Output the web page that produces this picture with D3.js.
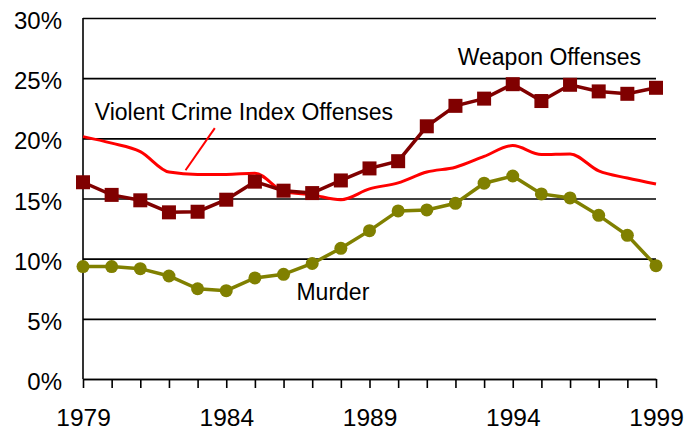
<!DOCTYPE html>
<html>
<head>
<meta charset="utf-8">
<script src="https://cdn.jsdelivr.net/npm/d3@7"></script>
<style>
  body { margin: 0; background: #fff; }
  .chart text { font-family: Arial, "Liberation Sans", sans-serif; fill: #000; }
</style>
</head>
<body>
<div class="chart"></div>
<script>
'use strict';
// data (percent)
var years = d3.range(1979, 2000);
var weapon = [16.35, 15.3, 14.85, 13.85, 13.9, 14.9, 16.4, 15.65, 15.45, 16.5, 17.5,
              18.1, 21.0, 22.7, 23.3, 24.5, 23.1, 24.45, 23.9, 23.7, 24.2];
var violent = [20.14, 19.6, 18.9, 17.2, 17.0, 17.0, 17.1, 15.6, 15.3, 14.9, 15.8,
               16.3, 17.2, 17.6, 18.5, 19.4, 18.65, 18.7, 17.3, 16.7, 16.2];
var murder = [9.34, 9.34, 9.17, 8.56, 7.5, 7.34, 8.4, 8.7, 9.6, 10.86, 12.33,
              13.97, 14.05, 14.6, 16.27, 16.87, 15.38, 15.05, 13.6, 11.94, 9.42];
var yTicks = [0, 5, 10, 15, 20, 25, 30];
var yearLabels = [1979, 1984, 1989, 1994, 1999];

var margin = {top: 18, bottom: 52, left: 83, right: 33};
var svg = {w: 689 - margin.left - margin.right, h: 431 - margin.top - margin.bottom};

var chart = d3.select(".chart")
  .append("svg")
    .attr("width", 689)
    .attr("height", 431)
  .append("g")
    .attr("transform", "translate(" + margin.left + "," + margin.top + ")");

var xScale = d3.scaleLinear().domain([1979, 1999]).range([0, svg.w]);
var yScale = d3.scaleLinear().domain([0, 30]).range([svg.h, 0]);

// y gridlines + labels
var yAxis = d3.axisLeft(yScale)
  .tickValues(yTicks)
  .tickSize(-svg.w)
  .tickPadding(21)
  .tickFormat(function(d) { return d + "%"; });

var gy = chart.append("g").call(yAxis);
gy.select(".domain").remove();
gy.selectAll(".tick line").attr("stroke", "#000").attr("stroke-width", 1.6);
gy.selectAll("text").attr("font-size", 24).attr("dy", "0.44em");

// y axis line
chart.append("line")
  .attr("x1", 0).attr("x2", 0)
  .attr("y1", 0).attr("y2", svg.h)
  .attr("stroke", "#000").attr("stroke-width", 1.6);

// x axis
var xAxis = d3.axisBottom(xScale)
  .tickValues(years)
  .tickSize(9)
  .tickSizeOuter(0)
  .tickPadding(21)
  .tickFormat(function(d) { return yearLabels.indexOf(d) >= 0 ? d : ""; });

var gx = chart.append("g")
  .attr("transform", "translate(0," + svg.h + ")")
  .call(xAxis);
gx.select(".domain").attr("stroke", "#000").attr("stroke-width", 1.6);
gx.selectAll(".tick line").attr("stroke", "#000").attr("stroke-width", 1.6);
gx.selectAll("text").attr("font-size", 24.5);

function series(vals) {
  return years.map(function(y, i) { return {year: y, v: vals[i]}; });
}

var line = d3.line()
  .x(function(d) { return xScale(d.year); })
  .y(function(d) { return yScale(d.v); });

// violent crime index (smooth, no markers)
chart.append("path")
  .datum(series(violent))
  .attr("fill", "none")
  .attr("stroke", "#ff0000")
  .attr("stroke-width", 3)
  .attr("d", line.curve(d3.curveMonotoneX));

line.curve(d3.curveLinear);

// murder
chart.append("path")
  .datum(series(murder))
  .attr("fill", "none")
  .attr("stroke", "#808000")
  .attr("stroke-width", 3.5)
  .attr("d", line);

chart.selectAll(".murder")
  .data(series(murder))
  .enter()
  .append("circle")
    .attr("class", "murder")
    .attr("cx", function(d) { return xScale(d.year); })
    .attr("cy", function(d) { return yScale(d.v); })
    .attr("r", 6.5)
    .attr("fill", "#808000");

// weapon offenses
chart.append("path")
  .datum(series(weapon))
  .attr("fill", "none")
  .attr("stroke", "#800000")
  .attr("stroke-width", 3.5)
  .attr("d", line);

chart.selectAll(".weapon")
  .data(series(weapon))
  .enter()
  .append("rect")
    .attr("class", "weapon")
    .attr("x", function(d) { return xScale(d.year) - 7; })
    .attr("y", function(d) { return yScale(d.v) - 7; })
    .attr("width", 14)
    .attr("height", 14)
    .attr("fill", "#800000");

// labels
var labels = [
  {text: "Weapon Offenses", year: 1992.08, v: 26.1},
  {text: "Violent Crime Index Offenses", year: 1979.41, v: 21.5},
  {text: "Murder", year: 1986.45, v: 6.57}
];
chart.selectAll(".lbl")
  .data(labels)
  .enter()
  .append("text")
    .attr("class", "lbl")
    .attr("x", function(d) { return xScale(d.year); })
    .attr("y", function(d) { return yScale(d.v); })
    .attr("font-size", 23)
    .text(function(d) { return d.text; });

// leader for the violent crime label
chart.append("line")
  .attr("x1", xScale(1983.6)).attr("y1", yScale(20.85))
  .attr("x2", xScale(1982.58)).attr("y2", yScale(17.35))
  .attr("stroke", "#ff0000")
  .attr("stroke-width", 2);
</script>
</body>
</html>
